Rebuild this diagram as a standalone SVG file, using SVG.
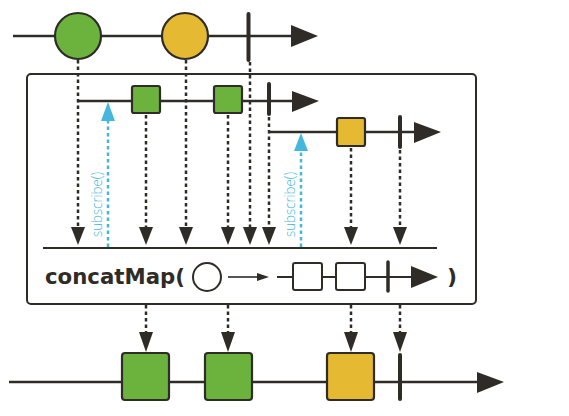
<svg xmlns="http://www.w3.org/2000/svg" width="569" height="416" viewBox="0 0 569 416">
<style>
.line{stroke:#2f2c28;stroke-width:2.5;fill:none}
.bar{stroke:#2f2c28;stroke-width:4;stroke-linecap:round}
.head{fill:#2f2c28}
.dash{stroke:#2f2c28;stroke-width:2.5;stroke-dasharray:3.5 3;fill:none}
.bdash{stroke:#45b7dc;stroke-width:2.5;stroke-dasharray:3.5 3;fill:none}
.bhead{fill:#45b7dc}
.g{fill:#6cb33e;stroke:#2f2c28;stroke-width:2.2}
.y{fill:#e6b932;stroke:#2f2c28;stroke-width:2.2}
.sub{font-family:"Open Sans","Liberation Sans",sans-serif;font-size:14.5px;fill:#45b7dc;font-weight:300}
.op{font-family:"DejaVu Sans","Liberation Sans",sans-serif;font-size:22px;font-weight:bold;fill:#2f2c28}
</style>
<rect width="569" height="416" fill="#ffffff"/>

<g id="source">
<line class="line" x1="13" y1="36" x2="295" y2="36"/>
<polygon class="head" points="291,25 318,36 291,47"/>
<circle id="c1" class="g" cx="78" cy="36" r="23"/>
<circle id="c2" class="y" cx="185" cy="36" r="23"/>
<line class="bar" x1="248.5" y1="14" x2="248.5" y2="60"/>
</g>

<g id="operator">
<rect x="27" y="74" width="449" height="230" rx="4" fill="none" stroke="#2f2c28" stroke-width="2"/>
<line x1="43" y1="248" x2="437" y2="248" stroke="#2f2c28" stroke-width="2"/>
<text class="op" x="45" y="284" textLength="140" lengthAdjust="spacingAndGlyphs">concatMap(</text>
<text class="op" x="447" y="284">)</text>
<circle cx="207" cy="277" r="14" fill="#fff" stroke="#2f2c28" stroke-width="2"/>
<line x1="228" y1="277" x2="260" y2="277" stroke="#555" stroke-width="2"/>
<polygon class="head" points="257,273 269,277 257,281"/>
<line x1="277" y1="277" x2="414" y2="277" stroke="#2f2c28" stroke-width="2"/>
<rect x="293" y="263" width="29" height="27" rx="2" fill="#fff" stroke="#2f2c28" stroke-width="2"/>
<rect x="336" y="263" width="29" height="27" rx="2" fill="#fff" stroke="#2f2c28" stroke-width="2"/>
<line x1="388" y1="262" x2="388" y2="291" stroke="#2f2c28" stroke-width="3.5" stroke-linecap="round"/>
<polygon class="head" points="411,266 438,277 411,288"/>
</g>

<g id="inner1">
<line class="line" x1="77" y1="101" x2="295" y2="101"/>
<polygon class="head" points="292,91 319,101 292,112"/>
<rect class="g" x="132" y="86" width="28" height="27" rx="2"/>
<rect class="g" x="214" y="86" width="28" height="27" rx="2"/>
<line class="bar" x1="269" y1="84" x2="269" y2="114"/>
</g>

<g id="inner2">
<line class="line" x1="269" y1="132" x2="416" y2="132"/>
<polygon class="head" points="414,122 441,132 414,143"/>
<rect class="y" x="337" y="118" width="28" height="28" rx="2"/>
<line class="bar" x1="400" y1="117" x2="400" y2="147"/>
</g>

<g id="result">
<line class="line" x1="9" y1="382" x2="480" y2="382"/>
<polygon class="head" points="477,372 504,382 477,393"/>
<rect class="g" x="122" y="353" width="47" height="47" rx="3"/>
<rect class="g" x="205" y="353" width="47" height="47" rx="3"/>
<rect class="y" x="327" y="353" width="47" height="47" rx="3"/>
<line class="bar" x1="400" y1="355" x2="400" y2="399"/>
</g>

<g id="connectors">
<line class="dash" x1="78" y1="60" x2="78" y2="228"/>
<polygon class="head" points="71,227 85,227 78,245"/>
<line class="dash" x1="186" y1="60" x2="186" y2="228"/>
<polygon class="head" points="179,227 193,227 186,245"/>
<line class="dash" x1="250" y1="62" x2="250" y2="228"/>
<polygon class="head" points="243,227 257,227 250,245"/>
<line class="dash" x1="146" y1="115" x2="146" y2="228"/>
<polygon class="head" points="139,227 153,227 146,245"/>
<line class="dash" x1="228" y1="115" x2="228" y2="228"/>
<polygon class="head" points="221,227 235,227 228,245"/>
<line class="dash" x1="269" y1="117" x2="269" y2="228"/>
<polygon class="head" points="262,227 276,227 269,245"/>
<line class="dash" x1="351" y1="148" x2="351" y2="228"/>
<polygon class="head" points="344,227 358,227 351,245"/>
<line class="dash" x1="400" y1="150" x2="400" y2="228"/>
<polygon class="head" points="393,227 407,227 400,245"/>

<line class="bdash" x1="108" y1="247" x2="108" y2="120"/>
<polygon class="bhead" points="101,121 115,121 108,102"/>
<line class="bdash" x1="301" y1="247" x2="301" y2="150"/>
<polygon class="bhead" points="294,151 308,151 301,133"/>
<text class="sub" transform="translate(102,237) rotate(-90)" textLength="65" lengthAdjust="spacingAndGlyphs">subscribe()</text>
<text class="sub" transform="translate(295,237) rotate(-90)" textLength="65" lengthAdjust="spacingAndGlyphs">subscribe()</text>

<line class="dash" x1="146" y1="305" x2="146" y2="333"/>
<polygon class="head" points="139,332 153,332 146,352"/>
<line class="dash" x1="228" y1="305" x2="228" y2="333"/>
<polygon class="head" points="221,332 235,332 228,352"/>
<line class="dash" x1="351" y1="305" x2="351" y2="333"/>
<polygon class="head" points="344,332 358,332 351,352"/>
<line class="dash" x1="400" y1="305" x2="400" y2="333"/>
<polygon class="head" points="393,332 407,332 400,352"/>
</g>
</svg>
